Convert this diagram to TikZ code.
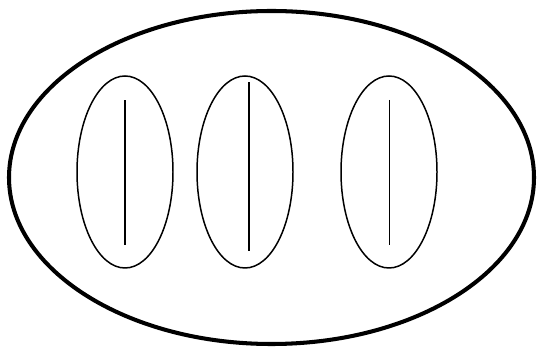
\documentclass[tikz,border=0pt]{standalone}
\usepackage{tikz}

\begin{document}
\begin{tikzpicture}
  \useasboundingbox (0,0) rectangle (10.74,6.96);
  % grosse Huelle
  \draw[line width=2.3pt] (5.43,3.41) ellipse (5.25 and 3.33);
  % drei Zellen mit Strich
  \foreach \x/\yt/\yb/\lx in {2.50/4.95/2.06/2.50, 4.90/5.31/1.93/4.98, 7.78/4.96/2.05/7.79} {
    \draw[line width=0.85pt] (\x,3.52) ellipse (0.96 and 1.92);
    \draw[line width=0.85pt] (\lx,\yt) -- (\lx,\yb);
  }
\end{tikzpicture}
\end{document}
